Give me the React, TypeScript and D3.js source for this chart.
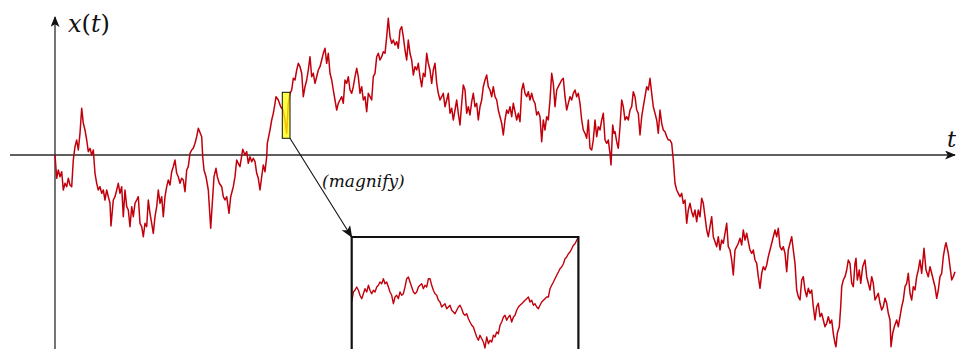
import React from "react";
import * as d3 from "d3";

// Brownian path x(t): [t, x]
const brownianPath: [number, number][] = [
[0,0],[1.7,-23.3],[3.3,-15],[5,-21.7],[6.7,-16.7],[8.3,-35],[10,-28.3],[11.7,-31.7],[13.3,-23.3],[15,-30],[16.7,-31.7],[18.3,-5],[20,8.3],[21.7,15],[23.3,5],[25,21.7],[26.7,46.7],[28.3,31.7],[30,25],[31.7,15],[33.3,3.3],[35,6.7],[36.7,0],[38.3,5],[40,-18.3],[41.7,-28.3],[43.3,-35],[45,-31.7],[46.7,-38.3],[48.3,-35],[50,-45],[51.7,-35],[53.3,-41.7],[55,-48.3],[56,-71],[58.3,-45],[60,-41.7],[61.7,-35],[63.3,-28.3],[65,-38.3],[66.7,-31.7],[68.3,-61.7],[70,-35],[71.7,-51.7],[73.3,-55],[75,-71.7],[76.7,-51.7],[78.3,-61.7],[80,-48.3],[81.7,-45],[83.3,-41.7],[85,-68.3],[86.7,-71.7],[88.3,-81.7],[90,-68.3],[91.7,-71.7],[93.3,-45],[95,-58.3],[96.7,-68.3],[98.3,-78.3],[100,-61.7],[101.7,-51.7],[103.3,-35],[105,-48.3],[106.7,-41.7],[108.3,-61.7],[110,-41.7],[111.7,-31.7],[113.3,-25],[115,-30],[116.7,-16.7],[118.3,-11.7],[120,-5],[121.7,-18.3],[123.3,-21.7],[125,-28.3],[126.7,-23.3],[128.3,-25],[130,-36.7],[131.7,-15],[133.3,-11.7],[135,1.7],[136.7,5],[138.3,6.7],[140,11.7],[141.7,18.3],[143.3,26.7],[146.7,18.3],[147.7,-1.7],[149,-15],[151,-21.7],[153.3,-35],[155.7,-73.3],[157.3,-48.3],[159,-21.7],[161,-13.3],[162.3,-21.7],[164.3,-28.3],[166.7,-31.7],[168.3,-41.7],[170,-45],[171.7,-41.7],[174,-58.3],[175.7,-41.7],[178.3,-31.7],[180,-21.7],[181.7,-5],[183.3,-8.3],[185,-11.7],[187.7,5.7],[190,0],[191.7,3.3],[193.3,-8.3],[195,-1.7],[196.7,-6.7],[198.3,-3.3],[200,-6.7],[201.7,-18.3],[203.3,-23.3],[205,-35],[206.7,-21.7],[208.3,-10],[210,-16.7],[211.7,-1.7],[212.3,11.7],[215,25],[216.7,35],[218.3,41.7],[220,51.7],[221,58.3],[223.3,55],[225.7,48.3],[228.3,45],[230,35],[231.7,21.7],[233.3,51.7],[235,61.7],[236.7,65],[238.3,76.7],[240,75],[241.7,85],[243.3,91.7],[245,88.3],[246.7,81.7],[248.3,58.3],[250,68.3],[251.7,75],[253.3,85],[255,98.3],[256.7,78.3],[258.3,81.7],[260,71.7],[261.7,78.3],[263.3,85],[265,88.3],[266.7,95],[268.3,101.7],[270,106.7],[271.7,91.7],[273.3,101.7],[275,81.7],[276.7,75],[278.3,65],[280,55],[281.7,45],[283.3,51.7],[285,55],[286.7,58.3],[288.3,51.7],[290,75],[291.7,71.7],[293.3,78.3],[295,65],[296.7,61.7],[298.3,68.3],[300,78.3],[301.7,86.7],[303.3,78.3],[305,61.7],[306.7,68.3],[308.3,55],[310,58.3],[311.7,43.3],[313.3,61.7],[315,58.3],[316.7,55],[318.3,78.3],[320,81.7],[321.7,98.3],[323.3,101.7],[325,95],[326.7,98.3],[328.3,103.3],[330,101.7],[331.7,118.3],[333.3,136.7],[335,118.3],[336.7,111.7],[338.3,115],[340,110],[341.7,113.3],[343.3,106.7],[345,125],[346.7,128.3],[348.3,118.3],[350,105],[351.7,95],[353.3,115],[355,101.7],[356.7,95],[358.3,80],[360,88.3],[361.7,85],[363.3,91.7],[365,78.3],[366.7,68.3],[368.3,81.7],[370,78.3],[371.7,101.7],[373.3,91.7],[375,85],[376.7,71.7],[378.3,85],[380,91.7],[381.7,71.7],[383.3,61.7],[385,55],[386.7,58.3],[388.3,61.7],[390,48.3],[391.7,55],[393.3,61.7],[395,41.7],[396.7,46.7],[398.3,35],[400,45],[401.7,55],[403.3,41.7],[405,30],[406.7,51.7],[408.3,70],[410,65],[411.7,41.7],[413.3,48.3],[415,40],[416.7,53.3],[418.3,61.7],[420,48.3],[421.7,51.7],[423.3,35],[425,48.3],[426.7,55],[428.3,68.3],[430,75],[431.7,80],[433.3,68.3],[435,65],[436.7,58.3],[438.3,68.3],[440,58.3],[441.7,55],[443.3,45],[445,38.3],[446.7,31.7],[448.3,20],[450,35],[451.7,45],[453.3,41.7],[455,48.3],[456.7,38.3],[458.3,51.7],[460,43.3],[461.7,35],[463.3,41.7],[465,33.3],[466.7,65],[468.3,71.7],[470,61.7],[471.7,58.3],[473.3,63.3],[475,55],[476.7,61.7],[478.3,55],[480,51.7],[481.7,40],[483.3,43.3],[485,38.3],[486.7,13.3],[488.3,35],[490,25],[491.7,38.3],[493.3,35],[495,55],[496.7,81.7],[498.3,71.7],[500,48.3],[501.7,65],[503.3,68.3],[505,71.7],[506.7,75],[508.3,76.7],[510,58.3],[511.7,45],[513.3,51.7],[515,58.3],[516.7,55],[518.3,61.7],[520,65],[521.7,58.3],[523.3,61.7],[525,51.7],[526.7,35],[528.3,25],[530,21.7],[531.7,16.7],[533.3,35],[535,6.7],[536.7,5],[538.3,15],[540,35],[541.7,18.3],[543.3,28.3],[545,25],[546.7,35],[548.3,41.7],[550,15],[551.7,11.7],[553.3,15],[555,1.7],[556,-10],[557.7,30],[559,21.7],[560,23.3],[561.7,13.3],[563.3,6.7],[565,28.3],[566.7,55],[568.3,48.3],[570,35],[571.7,38.3],[573.3,35],[575,45],[576.7,48.3],[578.3,63.3],[580,58.3],[581.7,45],[583.3,41.7],[585,20],[586.7,38.3],[588.3,48.3],[590,58.3],[591.7,68.3],[593.3,65],[595,76.7],[596.7,61.7],[598.3,48.3],[600,41.7],[601.7,35],[603.3,21.7],[605,45],[606.7,31.7],[608.3,25],[610,23.3],[611.7,18.3],[613.3,15],[615,15],[616.7,11.7],[618.3,-5],[620,-28.3],[621.7,-35],[623.3,-38.3],[625,-41.7],[626.7,-38.3],[628.3,-48.3],[630,-45],[631.7,-68.3],[633.3,-55],[635,-48.3],[636.7,-56.7],[638.3,-61.7],[640,-55],[641.7,-66.7],[643.3,-55],[645,-61.7],[646.7,-43.3],[648.3,-48.3],[650,-61.7],[651.7,-75],[653.3,-81.7],[655,-71.7],[656.7,-61.7],[658.3,-81.7],[660,-86.7],[661.7,-91.7],[663.3,-81.7],[665,-95],[666.7,-85],[668.3,-88.3],[670,-78.3],[671.7,-68.3],[673.3,-91.7],[675,-95],[676.7,-105],[678.3,-120],[680,-95],[681.7,-91.7],[683.3,-88.3],[685,-83.3],[686.7,-90],[688.3,-75],[690,-85],[691.7,-78.3],[693.3,-86.7],[695,-95],[696.7,-98.3],[698.3,-95],[700,-105],[701.7,-108.3],[703.3,-121.7],[705,-133.3],[706.7,-118.3],[708.3,-111.7],[710,-115],[711.7,-110],[713.3,-101.7],[715,-95],[716.7,-88.3],[718.3,-81.7],[720,-75],[721.7,-81.7],[723.3,-73.3],[725,-91.7],[726.7,-95],[728.3,-91.7],[730,-98.3],[731.7,-116.7],[733.3,-95],[735,-88.3],[736.7,-81.7],[738.3,-95],[740,-108.3],[741.7,-135],[743.3,-141.7],[745,-145],[746.7,-125],[748.3,-121.7],[750,-135],[751.7,-141.7],[753.3,-133.3],[755,-138.3],[756.7,-135],[758.3,-151.7],[760,-165],[761.7,-151.7],[763.3,-148.3],[765,-161.7],[766.7,-158.3],[768.3,-165],[770,-171.7],[771.7,-168.3],[773.3,-161.7],[775,-168.3],[776.7,-165],[778.3,-178.3],[780,-188.3],[781,-191.7],[782.3,-178.3],[784.3,-171.7],[785.7,-151.7],[786.7,-131.7],[788.3,-125],[790,-121.7],[791.7,-115],[793.3,-105],[795,-108.3],[796.7,-128.3],[798.3,-131.7],[800,-108.3],[801,-103.3],[802.3,-125],[804.3,-115],[805.7,-128.3],[807.7,-111.7],[810,-105],[811.7,-121.7],[813.3,-128.3],[815,-135],[816.7,-121.7],[818.3,-128.3],[820,-145],[821.7,-141.7],[823.3,-138.3],[825,-148.3],[826.7,-155],[828.3,-151.7],[830,-143.3],[831.7,-148.3],[833.3,-158.3],[835,-165],[836,-191.7],[837.7,-178.3],[839.3,-171.7],[841.7,-165],[843.3,-171.7],[845,-161.7],[846.7,-151.7],[848.3,-145],[850,-131.7],[851.7,-128.3],[853.3,-118.3],[855,-138.3],[856.7,-145],[858.3,-131.7],[860,-135],[861.7,-121.7],[863.3,-115],[865,-105],[866.7,-118.3],[869,-93.3],[871,-115],[873.3,-121.7],[875,-111.7],[876.7,-118.3],[878.3,-125],[880,-131.7],[881.7,-143.3],[883.3,-135],[885,-121.7],[886.7,-118.3],[888.3,-101.7],[890,-91.7],[891,-87.7],[893.3,-98.3],[895,-111.7],[896.7,-125],[898.3,-121.7],[900,-116.7]
];

// Magnified piece of the path (shown in the inset): [s, x]
const insetPath: [number, number][] = [
[0,-65],[1.7,-55],[3.3,-53.3],[5,-50],[6.7,-53.3],[8.3,-58.3],[10,-61.7],[11.7,-56.7],[13.3,-51.7],[15,-55],[16.7,-48.3],[18.3,-53.3],[20,-56.7],[21.7,-53.3],[23.3,-55],[25,-50],[26.7,-48.3],[28.3,-45],[30,-46.7],[31.7,-41.7],[33.3,-46.7],[35,-45],[36.7,-50],[38.3,-55],[40,-58.3],[41.7,-66.7],[43.3,-60],[45,-58.3],[46.7,-61.7],[48.3,-55],[50,-58.3],[51.7,-56.7],[53.3,-50],[55,-41.7],[56.7,-40],[58.3,-45],[60,-50],[61.7,-55],[63.3,-56.7],[65,-55],[66.7,-50],[68.3,-48.3],[70,-46.7],[71.7,-51.7],[73.3,-48.3],[75,-50],[76.7,-41.7],[78.3,-41.7],[80,-48.3],[81.7,-53.3],[83.3,-56.7],[85,-58.3],[86.7,-63.3],[88.3,-65],[90,-70],[91.7,-68.3],[93.3,-66.7],[95,-71.7],[96.7,-70],[98.3,-68.3],[100,-73.3],[101.7,-75],[103.3,-76.7],[105,-73.3],[106.7,-70],[108.3,-68.3],[110,-71.7],[111.7,-76.7],[113.3,-78.3],[115,-76.7],[116.7,-81.7],[118.3,-85],[120,-88.3],[121.7,-90],[123.3,-95],[125,-100],[126.7,-103.3],[128.3,-98.3],[130,-101.7],[131.7,-105],[133.3,-111],[135,-100],[136.7,-106.7],[138.3,-103.3],[140,-105],[141.7,-98.3],[143.3,-100],[145,-95],[146.7,-96.7],[148.3,-88.3],[150,-85],[151.7,-80],[153.3,-78.3],[155,-83.3],[156.7,-80],[158.3,-78.3],[160,-85],[161.7,-80],[163.3,-78.3],[165,-73.3],[166.7,-70],[168.3,-68.3],[170,-66.7],[171.7,-65],[173.3,-63.3],[175,-61.7],[176.7,-60],[178.3,-65],[180,-63.3],[181.7,-68.3],[183.3,-66.7],[185,-70],[186.7,-71.7],[188.3,-68.3],[190,-65],[191.7,-63.3],[193.3,-61.7],[195,-60],[196.7,-60],[198.3,-51.7],[200,-48.3],[201.7,-45],[203.3,-41.7],[205,-38.3],[206.7,-35],[208.3,-31.7],[210,-30],[211.7,-26.7],[213.3,-21.7],[215,-20],[216.7,-16.7],[218.3,-15],[220,-11.7],[221.7,-8.3],[223.3,-6.7],[225,-3.3],[226.7,0]
];

// Window of the path that is magnified
const magnifyT = [227.3, 235];
const magnifyX = [16.7, 62.7];

const W = 956;
const H = 349;
const RED = "#c2000c";
const AXIS = "#2a2a2a";
const SERIF = "'DejaVu Serif', 'Liberation Serif', serif";

export default function App() {
  const xScale = d3.scaleLinear().domain([0, 901]).range([55, 956]);
  const yScale = d3.scaleLinear().domain([-194, 155]).range([349, 0]);

  const sScale = d3.scaleLinear().domain([0, 226.7]).range([351.7, 578.4]);
  const vScale = d3.scaleLinear().domain([-112, 0]).range([349, 237]);

  const line = d3
    .line<[number, number]>()
    .x((d) => xScale(d[0]))
    .y((d) => yScale(d[1]));
  const insetLine = d3
    .line<[number, number]>()
    .x((d) => sScale(d[0]))
    .y((d) => vScale(d[1]));

  const x0 = xScale(0);
  const y0 = yScale(0);

  const rx0 = xScale(magnifyT[0]);
  const rx1 = xScale(magnifyT[1]);
  const ry0 = yScale(magnifyX[1]);
  const ry1 = yScale(magnifyX[0]);

  const bx0 = sScale(0);
  const bx1 = sScale(226.7);
  const by0 = vScale(0);

  return (
    <svg
      width={W}
      height={H}
      style={{ position: "absolute", left: 0, top: 0, background: "#fff" }}
    >
      <defs>
        <marker
          id="arr"
          viewBox="0 0 12 10"
          refX="11"
          refY="5"
          markerWidth="12"
          markerHeight="10"
          markerUnits="userSpaceOnUse"
          orient="auto"
        >
          <path d="M0,0 L12,5 L0,10 L3,5 Z" fill="#111" />
        </marker>
        <marker
          id="axarr"
          viewBox="0 0 12 10"
          refX="11"
          refY="5"
          markerWidth="11"
          markerHeight="9"
          markerUnits="userSpaceOnUse"
          orient="auto"
        >
          <path d="M0,0 L12,5 L0,10 L3,5 Z" fill="#111" />
        </marker>
        <clipPath id="insetClip">
          <rect x={bx0} y={by0} width={bx1 - bx0} height={H - by0 + 5} />
        </clipPath>
      </defs>

      {/* axes */}
      <line x1={10} y1={y0} x2={955} y2={y0} stroke={AXIS} strokeWidth={1.3} markerEnd="url(#axarr)" />
      <line x1={x0} y1={H} x2={x0} y2={17} stroke={AXIS} strokeWidth={1.3} markerEnd="url(#axarr)" />

      {/* main path */}
      <path d={line(brownianPath) || ""} fill="none" stroke={RED} strokeWidth={1.5} strokeLinejoin="round" />

      {/* magnified window */}
      <rect
        x={rx0}
        y={ry0}
        width={rx1 - rx0}
        height={ry1 - ry0}
        fill="#ffff00"
        fillOpacity={0.75}
        stroke="#111"
        strokeWidth={1}
      />

      {/* arrow to inset */}
      <line x1={rx1} y1={ry1} x2={bx0} y2={by0} stroke="#111" strokeWidth={1.1} markerEnd="url(#arr)" />

      <text x={322} y={187} fontFamily={SERIF} fontStyle="italic" fontSize={17} fill="#111">
        (magnify)
      </text>

      {/* inset */}
      <g clipPath="url(#insetClip)">
        <path d={insetLine(insetPath) || ""} fill="none" stroke={RED} strokeWidth={1.4} strokeLinejoin="round" />
      </g>
      <path
        d={`M${bx0},${H + 5} L${bx0},${by0} L${bx1},${by0} L${bx1},${H + 5}`}
        fill="none"
        stroke="#111"
        strokeWidth={2.2}
      />

      {/* labels */}
      <text x={68} y={32} fontFamily={SERIF} fontSize={24} fill="#111">
        <tspan fontStyle="italic">x</tspan>
        <tspan>(</tspan>
        <tspan fontStyle="italic">t</tspan>
        <tspan>)</tspan>
      </text>
      <text x={947} y={147} fontFamily={SERIF} fontStyle="italic" fontSize={23} fill="#111">
        t
      </text>
    </svg>
  );
}
